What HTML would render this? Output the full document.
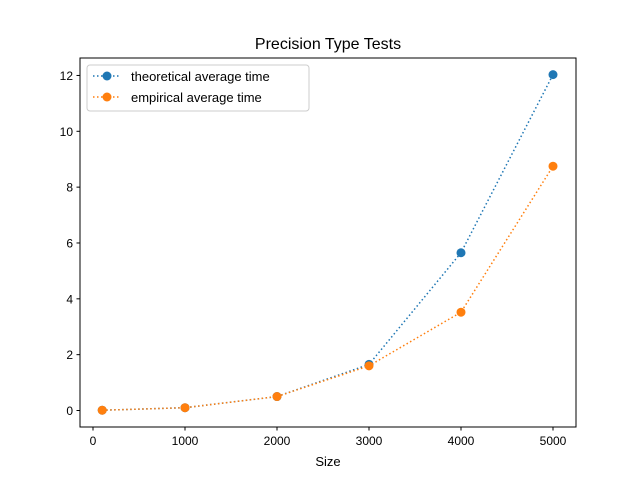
<!DOCTYPE html>
<html><head><meta charset="utf-8"><style>
body{margin:0;background:#fff;}
svg text{font-family:"Liberation Sans","DejaVu Sans",sans-serif;fill:#000;}
</style></head><body>
<svg id="chart" width="640" height="480" xmlns="http://www.w3.org/2000/svg">
<rect width="640" height="480" fill="#fff"/>
<text x="328" y="49" font-size="16" text-anchor="middle">Precision Type Tests</text>
<g id="plot"></g>
<rect x="80" y="58" width="496" height="369" fill="none" stroke="#000" stroke-width="1"/>
<text x="328" y="466" font-size="13" text-anchor="middle">Size</text>
<g>
<rect x="87" y="65" width="222" height="46" rx="3" fill="#fff" fill-opacity="0.8" stroke="#ccc"/>
<g>
<line x1="93" y1="76" x2="121" y2="76" stroke="#1f77b4" stroke-width="1.5" stroke-dasharray="1.5,2.5"/>
<circle cx="107" cy="76" r="4.5" fill="#1f77b4"/>
<text x="131" y="81" font-size="13">theoretical average time</text></g>
<g>
<line x1="93" y1="97" x2="121" y2="97" stroke="#ff7f0e" stroke-width="1.5" stroke-dasharray="1.5,2.5"/>
<circle cx="107" cy="97" r="4.5" fill="#ff7f0e"/>
<text x="131" y="102" font-size="13">empirical average time</text></g>
</g>
</svg>
<script>
const sizes=[100,1000,2000,3000,4000,5000];
const theoretical=[0.01,0.1,0.5,1.65,5.65,12.03];
const empirical=[0.01,0.1,0.5,1.6,3.52,8.75];
const xTicks=[0,1000,2000,3000,4000,5000];
const yTicks=[0,2,4,6,8,10,12];
const NS="http://www.w3.org/2000/svg";
const sx=v=>93+v*0.092;
const sy=v=>410.5-v*27.92;
const g=document.getElementById('plot');
function mk(t,a){const e=document.createElementNS(NS,t);for(const k in a)e.setAttribute(k,a[k]);g.appendChild(e);return e;}
xTicks.forEach(t=>{
 const l=mk('line',{x1:sx(t),x2:sx(t),y1:427,y2:430.5,stroke:'#000'});
 
 
 const tx=mk('text',{x:sx(t),y:445,'font-size':12,'text-anchor':'middle'});tx.textContent=t;
 
 
});
yTicks.forEach(t=>{
 const l=mk('line',{x1:76.5,x2:80,y1:sy(t),y2:sy(t),stroke:'#000'});
 
 
 const tx=mk('text',{x:73,y:sy(t)+4.5,'font-size':12,'text-anchor':'end'});tx.textContent=t;
 
 
});
function series(vals,color,name){
 const p=mk('polyline',{points:sizes.map((s,i)=>sx(s)+','+sy(vals[i])).join(' '),fill:'none',stroke:color,'stroke-width':1.5,'stroke-dasharray':'1.5,2.5'});
 
 
 sizes.forEach((s,i)=>{
  const c=mk('circle',{cx:sx(s),cy:sy(vals[i]),r:4.5,fill:color});
  
  
 });
}
series(theoretical,'#1f77b4','theoretical');
series(empirical,'#ff7f0e','empirical');
</script>
</body></html>
